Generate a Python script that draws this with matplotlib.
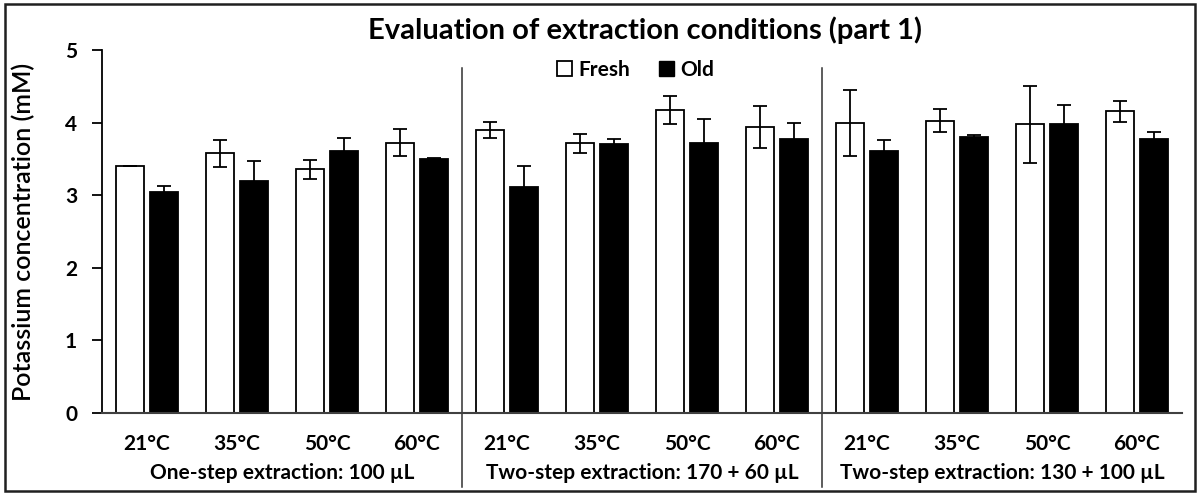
import numpy as np
import matplotlib
matplotlib.use("Agg")
import matplotlib.pyplot as plt
from matplotlib.patches import Patch, Rectangle

plt.rcParams['font.family'] = ['Lato', 'DejaVu Sans']

temps = ['21°C', '35°C', '50°C', '60°C'] * 3
groups = ['One-step extraction: 100 µL',
          'Two-step extraction: 170 + 60 µL',
          'Two-step extraction: 130 + 100 µL']

fresh = [3.40, 3.58, 3.36, 3.73, 3.90, 3.72, 4.18, 3.95, 4.00, 4.03, 3.98, 4.16]
fresh_err = [0.0, 0.19, 0.13, 0.19, 0.11, 0.13, 0.19, 0.29, 0.46, 0.16, 0.53, 0.15]
old = [3.05, 3.20, 3.61, 3.50, 3.12, 3.71, 3.72, 3.78, 3.62, 3.81, 3.99, 3.78]
old_err = [0.08, 0.28, 0.18, 0.02, 0.28, 0.07, 0.33, 0.22, 0.15, 0.03, 0.26, 0.09]

x = np.arange(len(temps))
w = 0.31
off = 0.19

fig = plt.figure(figsize=(12, 4.95), dpi=100)
ax = fig.add_axes([0.085, 0.1657, 0.9, 0.7323])

err_kw = dict(elinewidth=1.3, capsize=5, capthick=1.3, ecolor='black')
ax.bar(x - off, fresh, w, yerr=fresh_err, color='white', edgecolor='black',
       linewidth=1.3, error_kw=err_kw, label='Fresh')
ax.bar(x + off, old, w, yerr=old_err, color='black', edgecolor='black',
       linewidth=1.3, error_kw=err_kw, label='Old')

ax.set_xlim(-0.5, 11.5)
ax.set_ylim(0, 5)
ax.set_yticks([0, 1, 2, 3, 4, 5], labels=['0', '1', '2', '3', '4', '5'],
              fontsize=15, fontweight='bold')
ax.set_xticks(x, labels=temps, fontsize=15, fontweight='bold')
ax.tick_params(axis='x', length=0, pad=15)
ax.tick_params(axis='y', length=7, width=1.3, pad=11)

for s in ['top', 'right']:
    ax.spines[s].set_visible(False)
ax.spines['left'].set_linewidth(1.3)
ax.spines['bottom'].set_color('#404040')
ax.spines['bottom'].set_linewidth(1.5)

ax.set_ylabel('Potassium concentration (mM)', fontsize=18, fontweight='semibold')
ax.yaxis.set_label_coords(-0.062, 0.5)

# section separators
tr = ax.get_xaxis_transform()
for xs in [3.5, 7.5]:
    ax.plot([xs, xs], [-0.204, 0.952], color='#303030', lw=1.1,
            transform=tr, clip_on=False)

for i, g in enumerate(groups):
    ax.text(1.5 + 4 * i, -0.166, g, transform=tr, ha='center', va='center',
            fontsize=15, fontweight='bold')

fig.text(0.5375, 1 - 30 / 495, 'Evaluation of extraction conditions (part 1)',
         ha='center', va='center', fontsize=21, fontweight='bold')

handles = [Patch(facecolor='white', edgecolor='black', linewidth=1.3),
           Patch(facecolor='black', edgecolor='black')]
ax.legend(handles, ['Fresh', 'Old'], ncol=2, loc='center',
          bbox_to_anchor=(0.494, 0.946), frameon=False,
          prop={'weight': 'bold', 'size': 15},
          handlelength=0.7, handleheight=0.7, handletextpad=0.3,
          columnspacing=1.4)

fig.patches.append(Rectangle((0.004, 0.008), 0.992, 0.984, fill=False,
                             edgecolor='#202020', linewidth=1.8,
                             transform=fig.transFigure))

fig.savefig('out.png', dpi=100)
